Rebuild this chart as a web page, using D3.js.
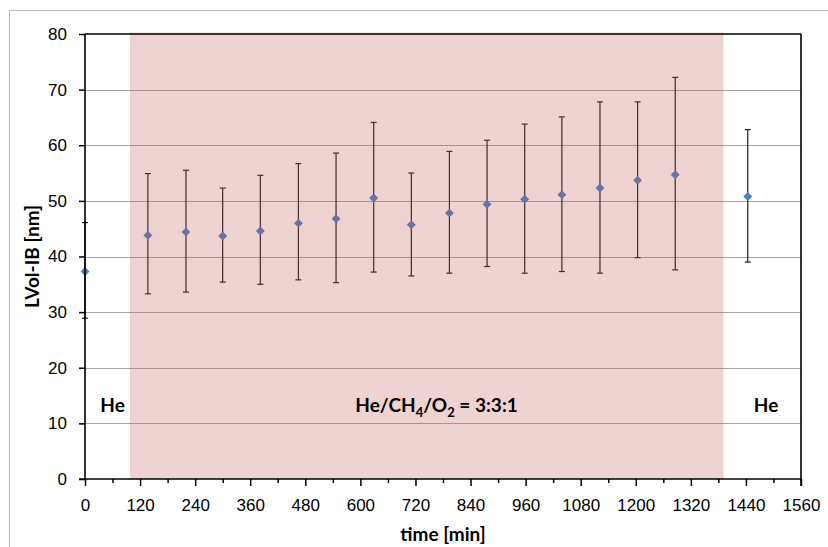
<!DOCTYPE html>
<html>
<head>
<meta charset="utf-8">
<script src="https://cdn.jsdelivr.net/npm/d3@7"></script>
<style>
  body { margin: 0; background: #fff; }
  svg { display: block; font-family: Lato, "Open Sans", sans-serif; }
  .axis text { font-size: 17px; fill: #000; }
  .axis path { display: none; }
  .axis line { stroke: #000; stroke-width: 1.5; }
  .phase-label, .axis-title { font-size: 19px; font-weight: bold; fill: #000; }
</style>
</head>
<body>
<div id="chart"></div>
<script>
// measured values (time in min, LVol-IB in nm)
const times  = [0, 137, 220, 300, 382, 465, 547, 629, 711, 794, 876, 958, 1039, 1122, 1204, 1286, 1444];
const means  = [37.3, 43.8, 44.4, 43.7, 44.6, 46.0, 46.8, 50.5, 45.7, 47.8, 49.4, 50.3, 51.1, 52.3, 53.7, 54.7, 50.8];
const errLow = [28.9, 33.3, 33.6, 35.4, 35.0, 35.8, 35.3, 37.2, 36.5, 37.0, 38.2, 37.0, 37.3, 37.0, 39.8, 37.6, 39.0];
const errHigh = [46.1, 54.9, 55.5, 52.3, 54.6, 56.7, 58.6, 64.1, 55.0, 58.9, 60.9, 63.8, 65.1, 67.8, 67.8, 72.2, 62.8];

const xTickValues = [0, 120, 240, 360, 480, 600, 720, 840, 960, 1080, 1200, 1320, 1440, 1560];
const xMinorTicks = [60, 180, 300, 420, 540, 660, 780, 900, 1020, 1140, 1260, 1380, 1500];
const yTickValues = [0, 10, 20, 30, 40, 50, 60, 70, 80];

// gas atmosphere phases
const reactionSpan = [98, 1391];
const phaseNames = ["He", "reaction", "He"];
const phaseCentres = [60, 766, 1484];

const width = 828, height = 547;
const margin = {top: 34, right: 28, bottom: 68, left: 85};

const svg = d3.select("#chart")
  .append("svg")
  .attr("width", width)
  .attr("height", height);

// outer chart frame (runs off the right / bottom edge like the source)
svg.append("rect")
  .attr("x", 9.5).attr("y", 10.5)
  .attr("width", width + 20).attr("height", height + 20)
  .attr("fill", "none")
  .attr("stroke", "#bfbfbf");

const x = d3.scaleLinear().domain([0, 1560]).range([margin.left, width - margin.right + 1]);
const y = d3.scaleLinear().domain([0, 80]).range([height - margin.bottom, margin.top]);

// horizontal gridlines
svg.append("g")
  .selectAll("line")
  .data(yTickValues.filter(v => v > 0 && v < 80))
  .join("line")
    .attr("x1", x(0)).attr("x2", x(1560))
    .attr("y1", d => Math.round(y(d)) + 0.5)
    .attr("y2", d => Math.round(y(d)) + 0.5)
    .attr("stroke", "#a6a6a6");

// axes
svg.append("g")
  .attr("class", "axis")
  .attr("transform", `translate(${x(0)},0)`)
  .call(d3.axisLeft(y).tickValues(yTickValues).tickSize(6).tickPadding(12));

svg.append("g")
  .attr("class", "axis")
  .attr("transform", `translate(0,${y(0)})`)
  .call(d3.axisBottom(x).tickValues(xTickValues).tickFormat(d3.format("d")).tickSize(7).tickPadding(13));

svg.append("g")
  .attr("class", "axis")
  .attr("transform", `translate(0,${y(0)})`)
  .call(d3.axisBottom(x).tickValues(xMinorTicks).tickSize(4).tickFormat(""));

// axis lines of the plot box
const box = svg.append("g").attr("stroke", "#000").attr("stroke-width", 1.6).attr("fill", "none");
box.append("line").attr("x1", x(0)).attr("x2", x(0)).attr("y1", y(80)).attr("y2", y(0));
box.append("line").attr("x1", x(0) - 6).attr("x2", x(1560)).attr("y1", y(0)).attr("y2", y(0));

// error bars
const pts = times.map((t, i) => ({t, m: means[i], lo: errLow[i], hi: errHigh[i]}));

const err = svg.append("g")
  .attr("stroke", "#1e1e1e")
  .attr("stroke-width", 1.2);

err.selectAll("line.bar")
  .data(pts)
  .join("line")
    .attr("class", "bar")
    .attr("x1", d => x(d.t)).attr("x2", d => x(d.t))
    .attr("y1", d => y(d.lo)).attr("y2", d => y(d.hi));

err.selectAll("line.cap-hi")
  .data(pts)
  .join("line")
    .attr("class", "cap-hi")
    .attr("x1", d => x(d.t) - 3).attr("x2", d => x(d.t) + 3)
    .attr("y1", d => y(d.hi)).attr("y2", d => y(d.hi));

err.selectAll("line.cap-lo")
  .data(pts)
  .join("line")
    .attr("class", "cap-lo")
    .attr("x1", d => x(d.t) - 3).attr("x2", d => x(d.t) + 3)
    .attr("y1", d => y(d.lo)).attr("y2", d => y(d.lo));

// diamond markers
svg.append("g")
  .selectAll("path")
  .data(pts)
  .join("path")
    .attr("d", d3.symbol(d3.symbolSquare, 40))
    .attr("transform", d => `translate(${x(d.t)},${y(d.m)}) rotate(45)`)
    .attr("fill", "#4f81bd");

// reaction period shading (semi transparent, on top like the original)
svg.append("rect")
  .attr("x", x(reactionSpan[0]))
  .attr("y", y(80) - 1.5)
  .attr("width", x(reactionSpan[1]) - x(reactionSpan[0]))
  .attr("height", y(0) - y(80) + 1.5)
  .attr("fill", "#c0504d")
  .attr("fill-opacity", 0.25);

// top and right frame of the plot area
box.append("line").attr("x1", x(0)).attr("x2", x(1560)).attr("y1", y(80)).attr("y2", y(80));
box.append("line").attr("x1", x(1560)).attr("x2", x(1560)).attr("y1", y(80)).attr("y2", y(0) + 7);
box.raise();

// phase labels
phaseNames.forEach((name, i) => {
  const t = svg.append("text")
    .attr("class", "phase-label")
    .attr("x", x(phaseCentres[i]))
    .attr("y", 412)
    .attr("text-anchor", "middle");
  if (name === "reaction") {
    t.append("tspan").text("He/CH");
    t.append("tspan").text("4").attr("font-size", 13).attr("dy", 5);
    t.append("tspan").text("/O").attr("dy", -5);
    t.append("tspan").text("2").attr("font-size", 13).attr("dy", 5);
    t.append("tspan").text(" = 3:3:1").attr("dy", -5);
  } else {
    t.text(name);
  }
});

// axis titles
svg.append("text")
  .attr("class", "axis-title")
  .attr("x", (x(0) + x(1560)) / 2)
  .attr("y", 541)
  .attr("text-anchor", "middle")
  .text("time [min]");

svg.append("text")
  .attr("class", "axis-title")
  .attr("transform", `translate(39,${(y(0) + y(80)) / 2}) rotate(-90)`)
  .attr("text-anchor", "middle")
  .text("LVol-IB [nm]");
</script>
</body>
</html>
